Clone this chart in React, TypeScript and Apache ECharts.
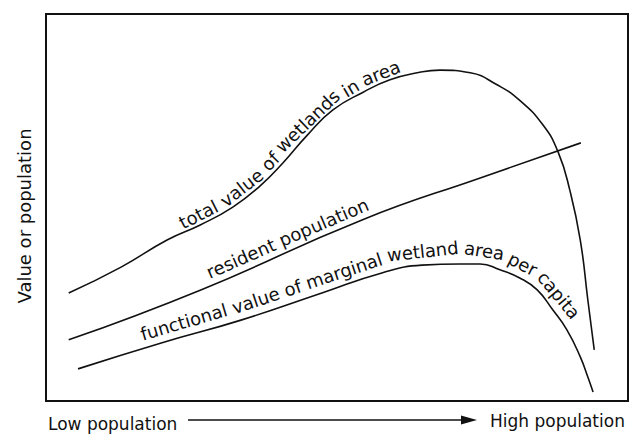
import React, { useEffect, useRef } from "react";
import * as echarts from "echarts";

// Data (x: 0..100 = low → high population, y: 0..100 = value or population)
const totalValue: [number, number][] = [
  [3.9, 27.9], [12.9, 34.6], [20.8, 41.6], [26.5, 45.5], [32.1, 50.1], [36.8, 55.6],
  [40.7, 61.5], [44.9, 68.7], [49.3, 75.2], [54.5, 79.8], [59.1, 83.0], [63.8, 84.8],
  [67.7, 85.5], [72.9, 84.8], [77.5, 81.7], [81.3, 77.8], [85.4, 71.3], [88.0, 64.3],
  [90.0, 54.5], [91.8, 41.6], [93.1, 26.1], [94.2, 13.2],
];
const residentPopulation: [number, number][] = [
  [3.9, 15.8], [26.6, 28.7], [54.3, 46.8], [75.1, 57.9], [91.9, 66.7],
];
const functionalValue: [number, number][] = [
  [5.5, 8.3], [19.8, 15.0], [33.5, 20.9], [47.4, 27.9], [57.7, 33.1], [64.6, 35.1],
  [71.1, 35.4], [74.6, 35.4], [78.0, 33.9], [81.4, 31.8], [84.4, 28.7], [87.1, 23.5],
  [89.5, 18.4], [91.8, 11.4], [93.1, 6.2], [94.0, 2.3],
];

const totalLabel = ["total", "value", "of", "wetlands", "in", "area"];
const residentLabel = ["resident", "population"];
const functionalLabel = ["functional", "value", "of", "marginal", "wetland", "area", "per", "capita"];
const totalLabelStart = 23.0;
const residentLabelStart = 27.7;
const functionalLabelStart = 16.3;

const yAxisTitle = "Value or population";
const xLowLabel = "Low population";
const xHighLabel = "High population";

const INK = "#111111";
const CURVE_FONT = '18px "DejaVu Sans"';
const AXIS_FONT = '17px "DejaVu Sans"';
const YAXIS_FONT = '18px "DejaVu Sans"';

let measureCtx: CanvasRenderingContext2D | null = null;
function measure(text: string, font: string): number {
  if (!measureCtx) measureCtx = document.createElement("canvas").getContext("2d");
  if (!measureCtx) return text.length * 9;
  measureCtx.font = font;
  return measureCtx.measureText(text).width;
}

function offsetPath(pts: number[][], offset: number) {
  return pts.map((p, i) => {
    const a = pts[Math.max(0, i - 1)];
    const b = pts[Math.min(pts.length - 1, i + 1)];
    const dx = b[0] - a[0];
    const dy = b[1] - a[1];
    const len = Math.hypot(dx, dy) || 1;
    // normal on the upper side of a left-to-right curve
    return [p[0] + (dy / len) * offset, p[1] - (dx / len) * offset];
  });
}

function placeAlong(rawPts: number[][], startX: number, words: string[], font: string, offset: number) {
  const pts = offsetPath(rawPts, offset);
  const cum: number[] = [0];
  for (let i = 1; i < pts.length; i++) {
    cum.push(cum[i - 1] + Math.hypot(pts[i][0] - pts[i - 1][0], pts[i][1] - pts[i - 1][1]));
  }
  const total = cum[cum.length - 1];
  const sAtX = (x: number) => {
    for (let i = 0; i < pts.length - 1; i++) {
      const x0 = Math.min(pts[i][0], pts[i + 1][0]);
      const x1 = Math.max(pts[i][0], pts[i + 1][0]);
      if (x >= x0 && x <= x1) {
        const t = (x - pts[i][0]) / (pts[i + 1][0] - pts[i][0] || 1);
        return cum[i] + t * (cum[i + 1] - cum[i]);
      }
    }
    return 0;
  };
  const pAt = (s: number) => {
    const ss = Math.max(0, Math.min(total, s));
    for (let i = 0; i < pts.length - 1; i++) {
      if (ss <= cum[i + 1]) {
        const t = (ss - cum[i]) / (cum[i + 1] - cum[i] || 1);
        return [pts[i][0] + t * (pts[i + 1][0] - pts[i][0]), pts[i][1] + t * (pts[i + 1][1] - pts[i][1])];
      }
    }
    return pts[pts.length - 1];
  };
  const space = measure(" ", font);
  let s = sAtX(startX);
  const out: any[] = [];
  for (const w of words) {
    const wd = measure(w, font);
    const a = pAt(s);
    const b = pAt(s + wd);
    const m = pAt(s + wd / 2);
    const ang = Math.atan2(b[1] - a[1], b[0] - a[0]);
    out.push({
      type: "text",
      x: m[0],
      y: m[1],
      rotation: -ang,
      silent: true,
      style: { text: w, font, fill: INK, align: "center", verticalAlign: "middle" },
    });
    s += wd + space;
  }
  return out;
}

export default function App() {
  const ref = useRef<HTMLDivElement>(null);
  useEffect(() => {
    if (!ref.current) return;
    const chart = echarts.init(ref.current, undefined, { renderer: "svg" });
    const lineStyle = { color: INK, width: 1.6 };
    const series = (name: string, data: [number, number][]) => ({
      name,
      type: "line",
      data,
      smooth: 0.5,
      showSymbol: false,
      symbol: "none",
      lineStyle,
      silent: true,
    });
    chart.setOption({
      animation: false,
      backgroundColor: "#ffffff",
      grid: {
        left: 46,
        right: 3,
        top: 14,
        bottom: 33,
        show: true,
        borderColor: INK,
        borderWidth: 2,
        backgroundColor: "transparent",
      },
      xAxis: {
        type: "value",
        min: 0,
        max: 100,
        axisLine: { show: false },
        axisTick: { show: false },
        axisLabel: { show: false },
        splitLine: { show: false },
      },
      yAxis: {
        type: "value",
        min: 0,
        max: 100,
        axisLine: { show: false },
        axisTick: { show: false },
        axisLabel: { show: false },
        splitLine: { show: false },
      },
      series: [
        series("total value of wetlands in area", totalValue),
        series("resident population", residentPopulation),
        series("functional value of marginal wetland area per capita", functionalValue),
      ],
    });

    const toPx = (d: [number, number][]) => d.map((p) => chart.convertToPixel({ gridIndex: 0 }, p) as number[]);
    const startPx = (x: number) => (chart.convertToPixel({ gridIndex: 0 }, [x, 0]) as number[])[0];

    const graphics: any[] = [
      ...placeAlong(toPx(totalValue), startPx(totalLabelStart), totalLabel, CURVE_FONT, 10),
      ...placeAlong(toPx(residentPopulation), startPx(residentLabelStart), residentLabel, CURVE_FONT, 13),
      ...placeAlong(toPx(functionalValue), startPx(functionalLabelStart), functionalLabel, CURVE_FONT, 14),
      {
        type: "text",
        x: 24,
        y: 216,
        rotation: Math.PI / 2,
        silent: true,
        style: { text: yAxisTitle, font: YAXIS_FONT, fill: INK, align: "center", verticalAlign: "middle" },
      },
      {
        type: "text",
        x: 48,
        y: 424,
        silent: true,
        style: { text: xLowLabel, font: AXIS_FONT, fill: INK, align: "left", verticalAlign: "middle" },
      },
      {
        type: "text",
        x: 490,
        y: 421,
        silent: true,
        style: { text: xHighLabel, font: AXIS_FONT, fill: INK, align: "left", verticalAlign: "middle" },
      },
      {
        type: "line",
        silent: true,
        shape: { x1: 188, y1: 420, x2: 464, y2: 420 },
        style: { stroke: INK, lineWidth: 1.5 },
      },
      {
        type: "polygon",
        silent: true,
        shape: { points: [[461, 415.5], [477, 420], [461, 424.5]] },
        style: { fill: INK },
      },
    ];
    chart.setOption({ graphic: graphics });
    return () => chart.dispose();
  }, []);
  return (
    <div
      ref={ref}
      style={{ position: "fixed", left: 0, top: 0, width: 631, height: 434, background: "#fff" }}
    />
  );
}
